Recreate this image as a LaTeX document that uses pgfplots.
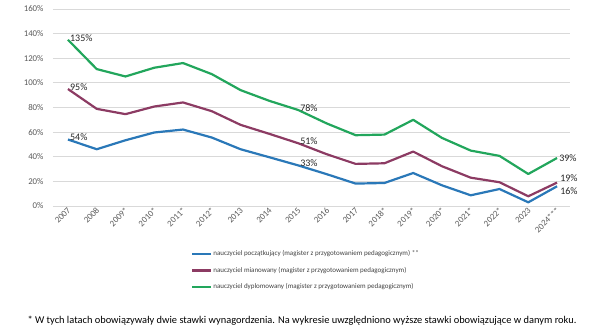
\documentclass[border=0pt]{standalone}
\usepackage{pgfplots}
\pgfplotsset{compat=1.18}
\usepackage{fontspec}
\setmainfont{Carlito}
\definecolor{cBlue}{HTML}{2A78B8}
\definecolor{cPurple}{HTML}{8C3B63}
\definecolor{cGreen}{HTML}{22A65C}
\definecolor{cGrid}{HTML}{D9D9D9}
\definecolor{cTick}{HTML}{595959}
\definecolor{cText}{HTML}{404040}

\begin{document}
\begin{tikzpicture}[x=1pt,y=1pt]
\path[use as bounding box] (0,0) rectangle (600,330);
\begin{axis}[
  at={(53pt,124pt)}, anchor=south west,
  scale only axis, width=517pt, height=197pt,
  xmin=-0.52, xmax=17.45, ymin=0, ymax=160,
  axis line style={draw=none},
  major tick length=0pt,
  ytick={0,20,...,160},
  yticklabel={\pgfmathprintnumber{\tick}\%},
  ymajorgrids, grid style={cGrid, line width=0.8pt},
  xtick={0,...,17},
  xticklabels={2007,2008,2009*,2010*,2011*,2012*,2013,2014,2015,2016,2017,2018*,2019*,2020*,2021*,2022*,2023,2024***},
  xticklabel style={rotate=45, anchor=east, font=\fontsize{8.8}{10}\selectfont, text=cTick, yshift=-3pt, xshift=2pt},
  yticklabel style={font=\fontsize{8.8}{10}\selectfont, text=cTick, xshift=-6pt},
  /pgf/number format/assume math mode=true,
  legend style={draw=none, fill=none, at={(0.261,-0.215)}, anchor=north west,
    font=\fontsize{7}{8}\selectfont, text=cText, row sep=10pt,
    nodes={inner xsep=1pt, inner ysep=0pt}},
  legend cell align=left,
  legend image code/.code={\draw[#1, line width=2.2pt] (0pt,0pt) -- (19pt,0pt);},
  clip=false,
]
% nauczyciel poczatkujacy
\addplot[cBlue, line width=2.2pt, line join=round] coordinates {
 (0,54) (1,46.1) (2,53.4) (3,59.7) (4,62.1) (5,55.6) (6,46.1) (7,39.6) (8,33)
 (9,25.8) (10,18.2) (11,18.7) (12,26.8) (13,16.8) (14,8.7) (15,13.8) (16,3) (17,16)};
\addlegendentry{nauczyciel początkujący (magister z przygotowaniem pedagogicznym) **}
% nauczyciel mianowany
\addplot[cPurple, line width=2.2pt, line join=round] coordinates {
 (0,95) (1,78.9) (2,74.6) (3,80.8) (4,84.1) (5,77) (6,65.9) (7,58.6) (8,51)
 (9,42) (10,34.2) (11,34.7) (12,44.2) (13,32.3) (14,23) (15,19.3) (16,7.9) (17,19)};
\addlegendentry{nauczyciel mianowany (magister z przygotowaniem pedagogicznym)}
% nauczyciel dyplomowany
\addplot[cGreen, line width=2.2pt, line join=round] coordinates {
 (0,135) (1,111.2) (2,105.2) (3,112.3) (4,116.1) (5,107.1) (6,94.1) (7,85.4) (8,78)
 (9,67) (10,57.5) (11,58) (12,70) (13,55.3) (14,45) (15,40.7) (16,26) (17,39)};
\addlegendentry{nauczyciel dyplomowany (magister z przygotowaniem pedagogicznym)}

% value labels
\pgfplotsset{vlabel/.style={draw=none, forget plot, point meta=y,
  nodes near coords={\pgfmathprintnumber{\pgfplotspointmeta}\%},
  nodes near coords style={font=\fontsize{10}{11}\selectfont, text=black!85, inner sep=1pt, #1}}}
\addplot[vlabel={anchor=west, xshift=1pt, yshift=2pt}] coordinates {
 (0,54) (0,95) (0,135) (8,33) (8,51) (8,78)};
\addplot[vlabel={anchor=west, xshift=1pt}] coordinates {(17,39)};
\addplot[vlabel={anchor=west, xshift=2pt, yshift=4.5pt}] coordinates {(17,19)};
\addplot[vlabel={anchor=west, xshift=2pt, yshift=-4.5pt}] coordinates {(17,16)};
\end{axis}
\node[anchor=base, font=\fontsize{10.4}{12}\selectfont, text=black] at (302,7)
 {* W tych latach obowiązywały dwie stawki wynagordzenia. Na wykresie uwzględniono wyższe stawki obowiązujące w danym roku.};
\end{tikzpicture}
\end{document}
